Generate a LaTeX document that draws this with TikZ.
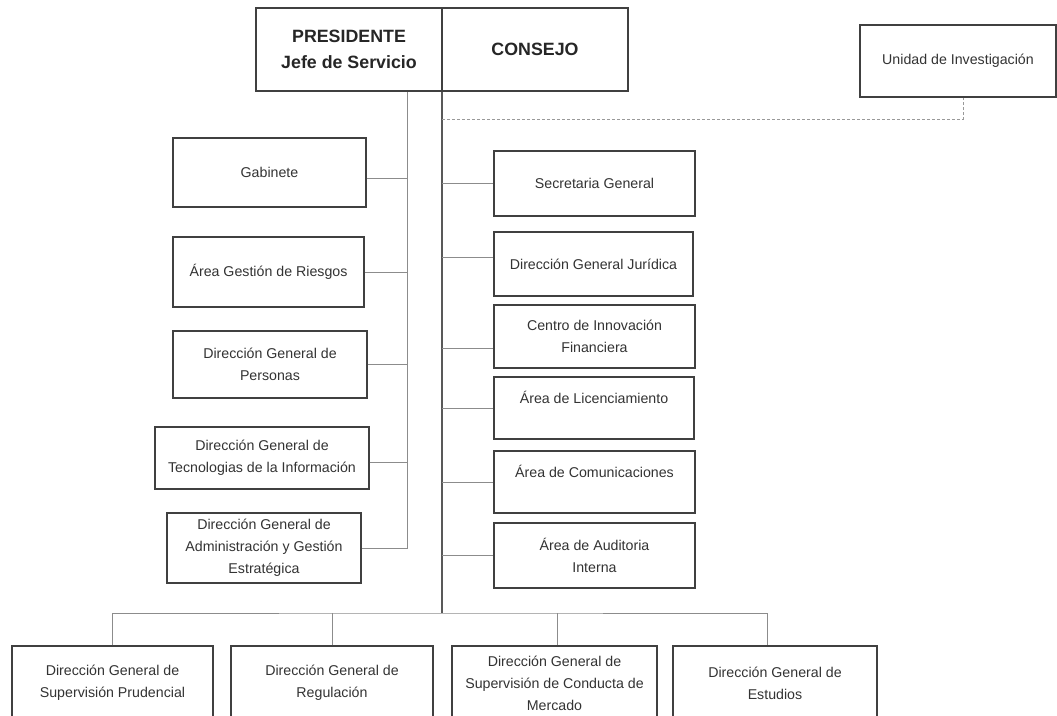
\documentclass[tikz,border=0pt]{standalone}
\usepackage{fontspec}
\setmainfont{Liberation Sans}
\usepackage{tikz}

\begin{document}
\begin{tikzpicture}[x=1pt,y=-1pt,
        box/.style={draw=black!75, line width=1.3pt, fill=white, inner sep=2pt, align=center,
                font=\fontsize{14.2}{22}\selectfont, text=black!80},
        headbox/.style={box, font=\fontsize{17.8}{26}\selectfont\bfseries, text=black!85},
        link/.style={draw=black!45, line width=1pt},
        spine/.style={draw=black!65, line width=1.1pt},
        dashlink/.style={draw=black!40, line width=1pt, dash pattern=on 3pt off 2pt}]
        \useasboundingbox (0,0) rectangle (1057,715);

        \coordinate (PTop) at (407,91);
        \coordinate (PBot) at (407,549);
        \coordinate (CTop) at (442,91);
        \coordinate (Bus) at (442,613);
        \coordinate (Dash) at (442,119);

        \path[link] (PTop) -- (PBot);
        \path[spine] (CTop) -- (Bus);

        \node[headbox, minimum width=186, minimum height=83] (Pres) at (349,49.5) {PRESIDENTE\\Jefe de Servicio};
        \node[headbox, minimum width=186, minimum height=83] (Consejo) at (535,49.5) {CONSEJO};
        \node[box, minimum width=196, minimum height=72] (Unidad) at (958,61) {Unidad de Investigación};

        \node[box, minimum width=193, minimum height=69] (Gab) at (269.5,172.5) {Gabinete};
        \node[box, minimum width=191, minimum height=70] (Riesgos) at (268.5,272) {Área Gestión de Riesgos};
        \node[box, minimum width=194, minimum height=67] (Personas) at (270,364.5) {Dirección General de\\Personas};
        \node[box, minimum width=214, minimum height=62] (Tecno) at (262,458) {Dirección General de\\Tecnologias de la Información};
        \node[box, minimum width=194, minimum height=70] (Admin) at (264,548) {Dirección General de\\Administración y Gestión\\Estratégica};

        \node[box, minimum width=201, minimum height=65] (SecGen) at (594.5,183.5) {Secretaria General};
        \node[box, minimum width=199, minimum height=64] (Juridica) at (593.5,264) {Dirección General Jurídica};
        \node[box, minimum width=201, minimum height=63] (Centro) at (594.5,336.5) {Centro de Innovación\\Financiera};
        \node[box, minimum width=200, minimum height=62] (Licen) at (594,408) {Área de Licenciamiento\\~};
        \node[box, minimum width=201, minimum height=62] (Comun) at (594.5,482) {Área de Comunicaciones\\~};
        \node[box, minimum width=201, minimum height=65] (Audit) at (594.5,555.5) {Área de Auditoria\\Interna};

        \node[box, minimum width=201, minimum height=74] (Prud) at (112.5,683) {Dirección General de\\Supervisión Prudencial};
        \node[box, minimum width=202, minimum height=74] (Regul) at (332,683) {Dirección General de\\Regulación};
        \node[box, minimum width=205, minimum height=74] (Conducta) at (554.5,683) {Dirección General de\\Supervisión de Conducta de\\Mercado};
        \node[box, minimum width=204, minimum height=74] (Estud) at (775,683) {Dirección General de\\Estudios};

        \path[link] ([yshift=-5.5pt]Gab.east) -- ([yshift=-5.5pt]Gab.east -| PTop);
        \path[link] (Riesgos.east) -- (Riesgos.east -| PTop);
        \path[link] (Personas.east) -- (Personas.east -| PTop);
        \path[link] ([yshift=-4pt]Tecno.east) -- ([yshift=-4pt]Tecno.east -| PTop);
        \path[link] (Admin.east) -- (Admin.east -| PTop);

        \path[link] (SecGen.west -| CTop) -- (SecGen.west);
        \path[link] ([yshift=7pt]Juridica.west -| CTop) -- ([yshift=7pt]Juridica.west);
        \path[link] ([yshift=-11.5pt]Centro.west -| CTop) -- ([yshift=-11.5pt]Centro.west);
        \path[link] (Licen.west -| CTop) -- (Licen.west);
        \path[link] (Comun.west -| CTop) -- (Comun.west);
        \path[link] (Audit.west -| CTop) -- (Audit.west);

        \path[link] (Prud.north) |- (Bus) -| ([xshift=-8pt]Estud.north);
        \path[link] (Regul.north) -- (Regul.north |- Bus);
        \path[link] ([xshift=2.5pt]Conducta.north) -- ([xshift=2.5pt]Conducta.north |- Bus);

        \path[dashlink] (Dash) -| ([xshift=5pt]Unidad.south);
\end{tikzpicture}
\end{document}
